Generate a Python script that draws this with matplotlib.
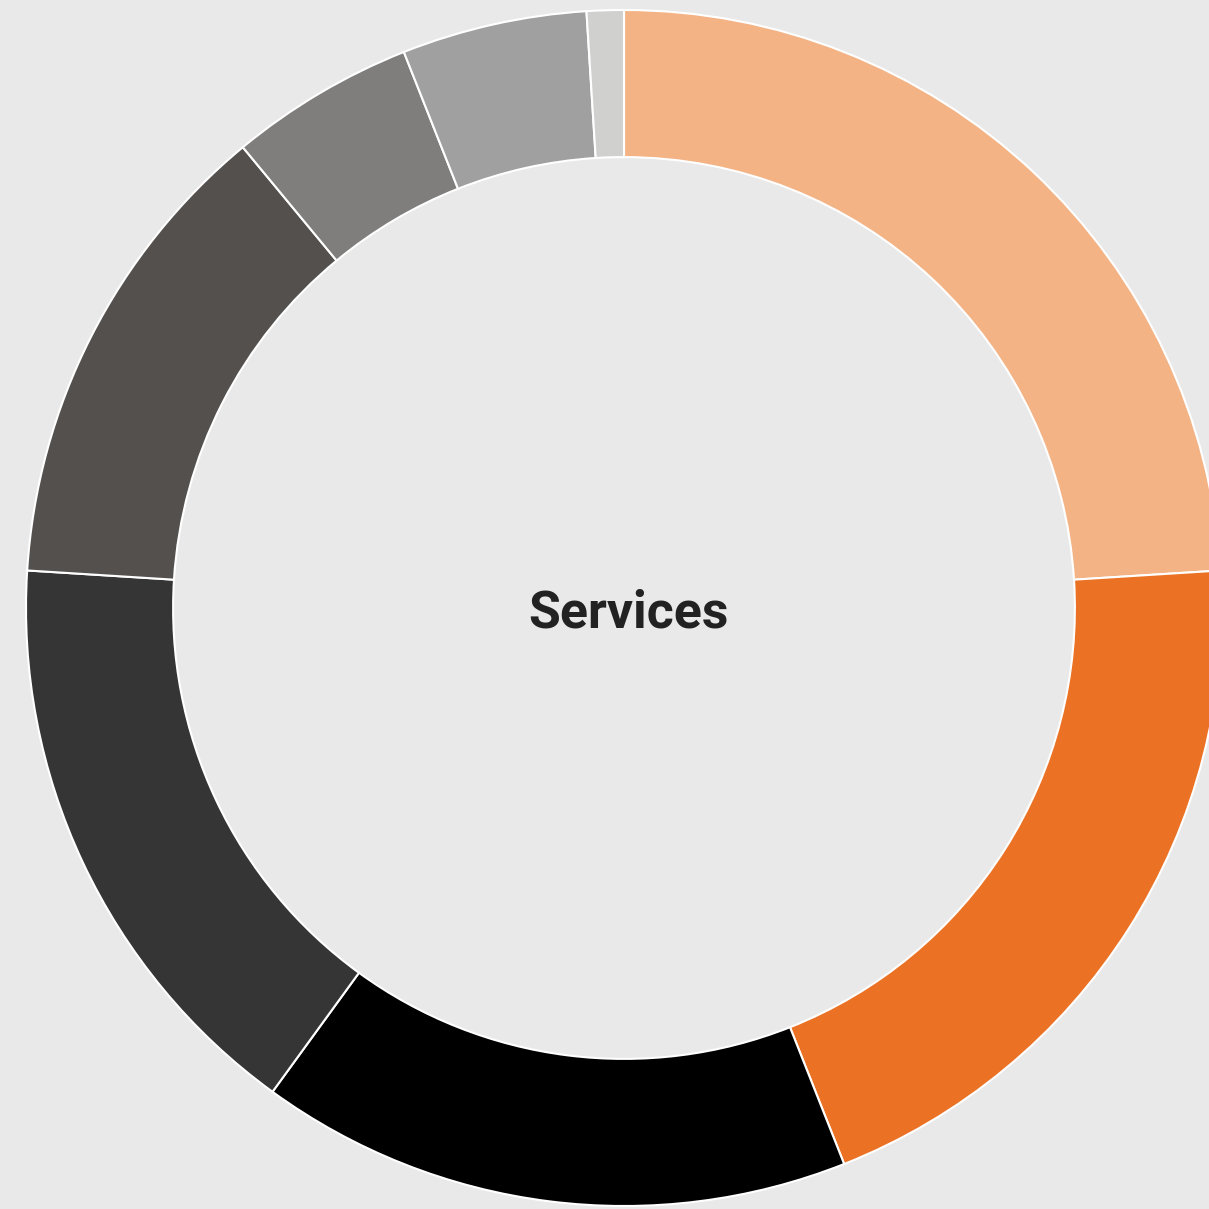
import matplotlib
matplotlib.use("Agg")
import matplotlib.pyplot as plt

# Share of each segment (percent), clockwise from 12 o'clock
segments = ["A", "B", "C", "D", "E", "F", "G", "H"]
values = [24, 20, 16, 16, 13, 5, 5, 1]
colors = ["#F3B385", "#EB7224", "#000000", "#343534",
          "#54504E", "#7F7E7C", "#A0A0A0", "#D0D0CF"]
center_label = "Services"

bg = "#E9E9E9"

fig = plt.figure(figsize=(12.09, 12.09), dpi=100, facecolor=bg)
ax = fig.add_axes([0, 0, 1, 1])
ax.set_facecolor(bg)

ax.pie(
    values,
    colors=colors,
    startangle=90,
    counterclock=False,
    radius=1.0,
    wedgeprops=dict(width=0.246, edgecolor="white", linewidth=1.5),
)

ax.text(0.0075, -0.0318, center_label, ha="center", va="baseline",
        fontsize=37.3, fontweight="bold", color="#222222",
        family=["Roboto", "DejaVu Sans"])

# centre of the ring sits at pixel (624, 608), radius 598 px
s = 598.0
ax.set_xlim(-624 / s, (1209 - 624) / s)
ax.set_ylim(-(1209 - 608) / s, 608 / s)
ax.set_aspect("auto")
ax.axis("off")

fig.savefig("out.png", dpi=100, facecolor=bg)
